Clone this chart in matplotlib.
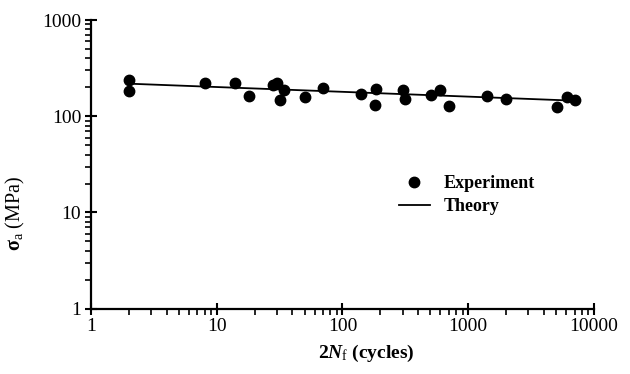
import numpy as np
import matplotlib.pyplot as plt
from matplotlib.ticker import LogLocator, FixedLocator, NullFormatter

## ================================ ##
##  Fatigue data  ##
## ================================ ##

## reversals to failure, 2Nf (cycles)
exp_reversals = [2, 2, 8, 14, 18, 28, 30, 34, 32, 50, 70, 141, 186, 182,
                 303, 314, 508, 600, 703, 1410, 2010, 5050, 6070, 7100]
## stress amplitude (MPa)
exp_stress = [238, 181, 223, 223, 161, 211, 220, 186, 147, 157, 195, 169, 193, 130,
              186, 152, 166, 188, 128, 162, 150, 126, 158, 147]

## theory line end points
theory_reversals = [2, 7100]
theory_stress = [218, 145]

x_ticks = [1, 10, 100, 1000, 10000]
y_ticks = [1, 10, 100, 1000]

plt.rcParams['font.family'] = ['Liberation Serif', 'DejaVu Serif']
plt.rcParams['mathtext.fontset'] = 'custom'
plt.rcParams['mathtext.rm'] = 'Liberation Serif'
plt.rcParams['mathtext.it'] = 'Liberation Serif:italic:bold'
plt.rcParams['mathtext.bf'] = 'Liberation Serif:bold'

fig = plt.figure(figsize=(6.3, 3.74), dpi=100)
ax = fig.add_axes([0.1444, 0.1746, 0.7985, 0.7719])

ax.plot(exp_reversals, exp_stress, 'o', color='black', ms=7.5, label='Experiment')
ax.plot(theory_reversals, theory_stress, '-', color='black', lw=1.3, label='Theory')

ax.set_xscale('log')
ax.set_yscale('log')
ax.set_xlim(1, 10000)
ax.set_ylim(1, 1000)

ax.xaxis.set_major_locator(FixedLocator(x_ticks))
ax.yaxis.set_major_locator(FixedLocator(y_ticks))
ax.set_xticklabels([str(t) for t in x_ticks])
ax.set_yticklabels([str(t) for t in y_ticks])
ax.xaxis.set_minor_locator(LogLocator(base=10, subs=np.arange(2, 10)))
ax.yaxis.set_minor_locator(LogLocator(base=10, subs=np.arange(2, 10)))
ax.xaxis.set_minor_formatter(NullFormatter())
ax.yaxis.set_minor_formatter(NullFormatter())

ax.tick_params(which='major', direction='inout', length=8, width=1.5, labelsize=14, pad=3)
ax.tick_params(which='minor', direction='out', length=4, width=1.2)

for s in ['top', 'right']:
    ax.spines[s].set_visible(False)
for s in ['left', 'bottom']:
    ax.spines[s].set_linewidth(1.6)

fig.text(0.582, 0.056, r'$\mathbf{2}\mathit{N}_{\mathrm{f}}$' + ' (cycles)', ha='center', va='center',
         fontsize=14, fontweight='bold')
fig.text(0.024, 0.43, r'$\mathbf{\sigma}_{\mathrm{a}}$' + ' (MPa)', ha='center', va='center',
         fontsize=14.5, rotation=90)

ax.legend(loc='upper left', bbox_to_anchor=(0.58, 0.52), frameon=False,
          prop={'weight': 'bold', 'size': 13}, handlelength=1.7, handletextpad=0.8,
          labelspacing=0.35)

fig.savefig('out.png', dpi=100)
